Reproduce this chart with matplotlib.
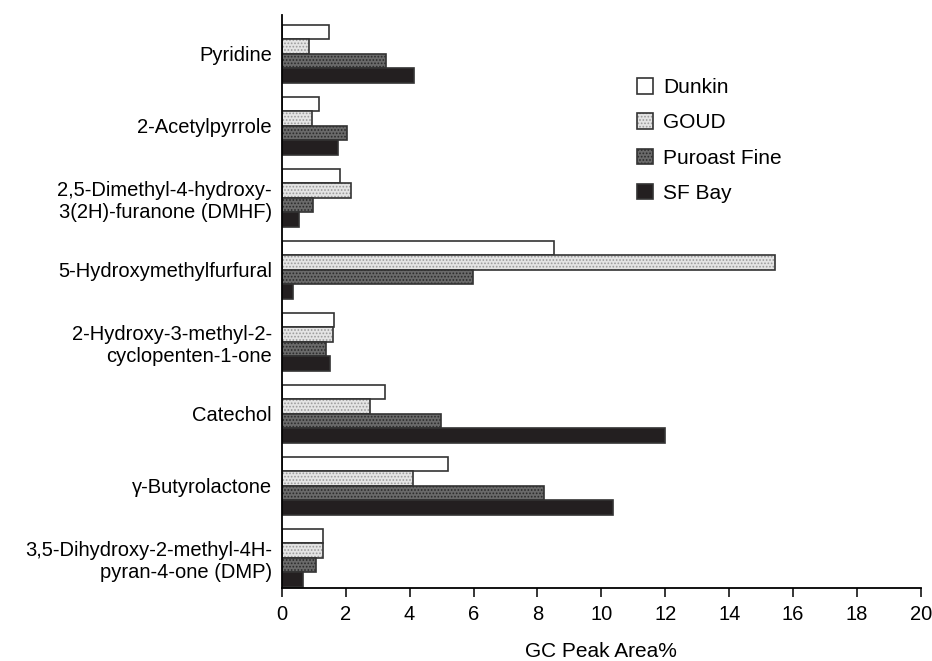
import matplotlib
matplotlib.use("Agg")
import matplotlib.pyplot as plt
from matplotlib.patches import Patch
import numpy as np

plt.rcParams['font.family'] = ['Liberation Sans', 'DejaVu Sans']
plt.rcParams['hatch.linewidth'] = 0.8

categories = [
    "Pyridine",
    "2-Acetylpyrrole",
    "2,5-Dimethyl-4-hydroxy-\n3(2H)-furanone (DMHF)",
    "5-Hydroxymethylfurfural",
    "2-Hydroxy-3-methyl-2-\ncyclopenten-1-one",
    "Catechol",
    "\u03b3-Butyrolactone",
    "3,5-Dihydroxy-2-methyl-4H-\npyran-4-one (DMP)",
]
series_names = ["Dunkin", "GOUD", "Puroast Fine", "SF Bay"]
dunkin = [1.49, 1.18, 1.83, 8.52, 1.62, 3.22, 5.19, 1.29]
goud = [0.85, 0.95, 2.16, 15.42, 1.60, 2.75, 4.10, 1.29]
puroast = [3.27, 2.04, 0.98, 5.97, 1.40, 4.97, 8.21, 1.08]
sfbay = [4.13, 1.76, 0.55, 0.36, 1.51, 12.0, 10.35, 0.68]
xticks = [0, 2, 4, 6, 8, 10, 12, 14, 16, 18, 20]

series = [dunkin, goud, puroast, sfbay]
faces = ["white", "#e4e4e4", "#6a6a6a", "#231f20"]
hatches = [None, ".....", ".....", None]
hatchcols = ["#333333", "#9a9a9a", "#2a2a2a", "#231f20"]
edge = "#333333"

fig = plt.figure(figsize=(9.32, 6.61), dpi=100)
ax = fig.add_axes([0.3023, 0.1105, 0.9882 - 0.3023, 0.9773 - 0.1105])

y = np.arange(len(categories))
h = 0.2
offsets = [-0.3, -0.1, 0.1, 0.3]
handles = []
for vals, fc, ht, hc, off, name in zip(series, faces, hatches, hatchcols, offsets, series_names):
    ax.barh(y + off, vals, height=h, color=fc, hatch=ht, edgecolor=hc, linewidth=0)
    ax.barh(y + off, vals, height=h, facecolor="none", edgecolor=edge, linewidth=1.2)
    p1 = Patch(facecolor=fc, hatch=ht, edgecolor=hc, linewidth=0)
    p2 = Patch(facecolor="none", edgecolor=edge, linewidth=1.2)
    handles.append((p1, p2))

ax.set_ylim(7.42, -0.54)
ax.set_xlim(0, 20)
ax.set_xticks(xticks)
ax.set_xticklabels([str(t) for t in xticks])
ax.set_yticks(y)
ax.set_yticklabels(categories, fontsize=14.5, linespacing=1.2)
ax.tick_params(axis='y', length=0, pad=7)
ax.tick_params(axis='x', length=6.5, width=1.1, pad=6, labelsize=14.5, direction='out')
for s in ['top', 'right']:
    ax.spines[s].set_visible(False)
ax.spines['left'].set_linewidth(1.3)
ax.spines['bottom'].set_linewidth(1.3)
ax.spines['bottom'].set_position(('data', 7.42))
ax.set_xlabel("GC Peak Area%", fontsize=15, labelpad=13)

fig.legend(handles, series_names, loc='upper left', bbox_to_anchor=(0.6835, 0.882),
           frameon=False, fontsize=15, handlelength=0.77, handleheight=0.77,
           handletextpad=0.5, labelspacing=0.78, borderpad=0, borderaxespad=0)

fig.savefig("out.png", dpi=100)
